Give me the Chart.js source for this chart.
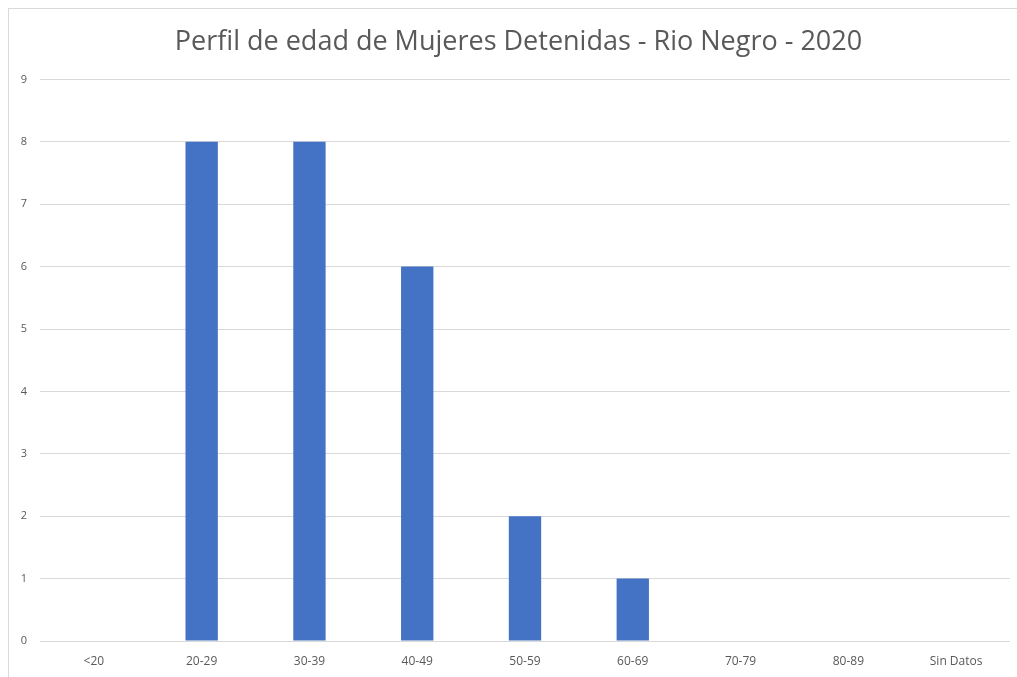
<!DOCTYPE html>
<html>
<head>
<meta charset="utf-8">
<script src="https://cdn.jsdelivr.net/npm/chart.js@4"></script>
<style>
  html, body { margin: 0; padding: 0; background: #fff; overflow: hidden; }
  #wrap {
    position: absolute; left: 8px; top: 8px;
    width: 1008px; height: 669px;
    border: 1px solid #d9d9d9; border-bottom: none;
    background: #fff;
  }
</style>
</head>
<body>
<div id="wrap"><canvas id="chart"></canvas></div>
<script>
// Data
const categories = ['<20', '20-29', '30-39', '40-49', '50-59', '60-69', '70-79', '80-89', 'Sin Datos'];
const detenidas = [0, 8, 8, 6, 2, 1, 0, 0, 0];
const yTicks = [0, 1, 2, 3, 4, 5, 6, 7, 8, 9];

// nudge the title a bit to the right, like the original
const titleShift = {
  id: 'titleShift',
  afterLayout(chart) {
    if (chart.titleBlock) chart.titleBlock.left += 18;
  }
};

const ctx = document.getElementById('chart').getContext('2d');
new Chart(ctx, {
  type: 'bar',
  data: {
    labels: categories,
    datasets: [{
      label: 'Mujeres detenidas',
      data: detenidas,
      backgroundColor: '#4472C4',
      borderWidth: 0,
      categoryPercentage: 1,
      barPercentage: 0.3
    }]
  },
  options: {
    responsive: true,
    maintainAspectRatio: false,
    animation: false,
    layout: { padding: { left: 0, right: 7, top: 0, bottom: 0 } },
    plugins: {
      legend: { display: false },
      tooltip: { enabled: false },
      title: {
        display: true,
        text: 'Perfil de edad de Mujeres Detenidas - Rio Negro - 2020',
        color: '#595959',
        font: { family: 'Open Sans', size: 27, weight: 'normal' },
        padding: { top: 17, bottom: 21 }
      }
    },
    scales: {
      x: {
        grid: { display: false },
        border: { display: false },
        ticks: {
          color: '#595959',
          font: { family: 'Open Sans', size: 12 },
          padding: 5,
          maxRotation: 0
        },
        afterFit: (scale) => { scale.height = 37; }
      },
      y: {
        min: 0,
        max: 9,
        afterBuildTicks: (scale) => { scale.ticks = yTicks.map(v => ({ value: v })); },
        grid: { color: '#d9d9d9', drawTicks: false, lineWidth: 1 },
        border: { display: false },
        ticks: {
          color: '#595959',
          font: { family: 'Open Sans', size: 11 },
          padding: 13
        },
        afterFit: (scale) => { scale.width = 31; }
      }
    }
  },
  plugins: [titleShift]
});
</script>
</body>
</html>
